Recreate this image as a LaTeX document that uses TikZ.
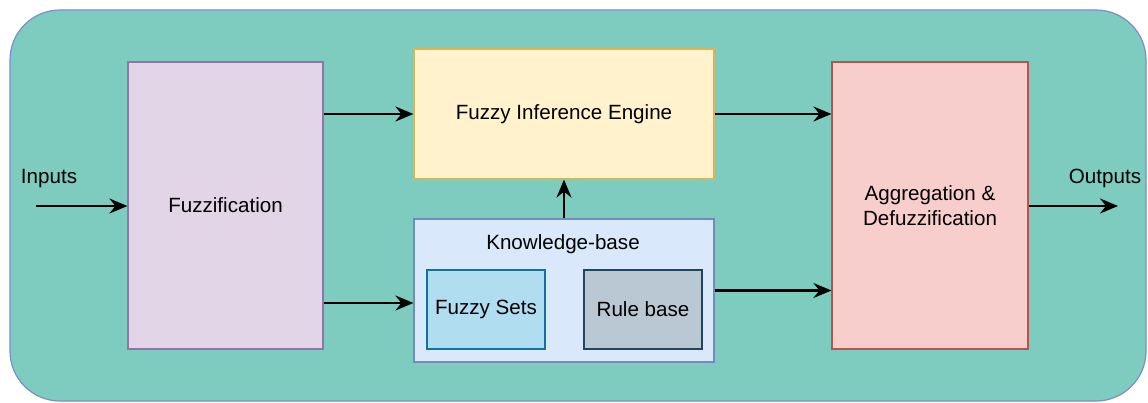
\documentclass[tikz,border=0pt]{standalone}
\usepackage{fontspec}
\setmainfont{Liberation Sans}
\usetikzlibrary{arrows.meta,calc}
\definecolor{panel}{HTML}{7DCCBF}
\definecolor{panelline}{HTML}{7A8FC8}
\definecolor{fuzzfill}{HTML}{E1D5E7}
\definecolor{fuzzline}{HTML}{9673A6}
\definecolor{fiefill}{HTML}{FFF2CC}
\definecolor{fieline}{HTML}{D6B656}
\definecolor{kbfill}{HTML}{DAE8FC}
\definecolor{kbline}{HTML}{6C8EBF}
\definecolor{fsfill}{HTML}{B1DDF0}
\definecolor{fsline}{HTML}{10739E}
\definecolor{rbfill}{HTML}{BAC8D3}
\definecolor{rbline}{HTML}{23445D}
\definecolor{aggfill}{HTML}{F8CECC}
\definecolor{aggline}{HTML}{B85450}
\begin{document}
\begin{tikzpicture}[x=1pt,y=-1pt,
  every node/.style={font=\fontsize{20.6}{24.5}\selectfont, inner sep=0pt},
  block/.style={draw, line width=1.2pt, align=center},
  arr/.style={-{Stealth[length=18pt,width=15pt,inset=6pt]}, line width=2.5pt}]
\useasboundingbox (0,0) rectangle (1148,403);
% outer panel
\draw[fill=panel, draw=panelline, line width=1.2pt, rounded corners=50pt] (10,10) rectangle (1146,401);
% blocks
\node[block, fill=fuzzfill, draw=fuzzline, minimum width=195pt, minimum height=287pt] (fuzz) at (225.5,205.5) {Fuzzification};
\node[block, fill=fiefill, draw=fieline, minimum width=300pt, minimum height=130pt] (fie) at (564,114) {Fuzzy Inference Engine};
\node[block, fill=kbfill, draw=kbline, minimum width=300pt, minimum height=143pt] (kb) at (564,290.5) {};
\node (kbl) at (563,244) {Knowledge-base};
\node[block, fill=fsfill, draw=fsline, minimum width=118pt, minimum height=79pt] (fs) at (486,309.5) {\raisebox{-1.5pt}{Fuzzy Sets}};
\node[block, fill=rbfill, draw=rbline, minimum width=118pt, minimum height=79pt] (rb) at (643,309.5) {\raisebox{-1pt}{Rule base}};
\node[block, fill=aggfill, draw=aggline, minimum width=196pt, minimum height=287pt] (agg) at (930,205.5) {Aggregation \&\\Defuzzification};
% labels
\node (inl) at (49,179) {Inputs};
\node (outl) at (1105,178) {Outputs};
\coordinate (in) at (36,206);
\coordinate (out) at (1118,206);
% connectors
\draw[arr] (in) -- (fuzz.west |- in);
\draw[arr] (fuzz.east |- fie.west) -- (fie.west);
\draw[arr] ([yshift=-12.5pt]fuzz.east |- kb.west) -- ([yshift=-12.5pt]kb.west);
\draw[arr] (kb.north) -- (fie.south);
\draw[arr] (fie.east) -- (agg.west |- fie.east);
\draw[arr] (kb.east) -- (agg.west |- kb.east);
\draw[arr] (agg.east |- out) -- (out);
\end{tikzpicture}
\end{document}
